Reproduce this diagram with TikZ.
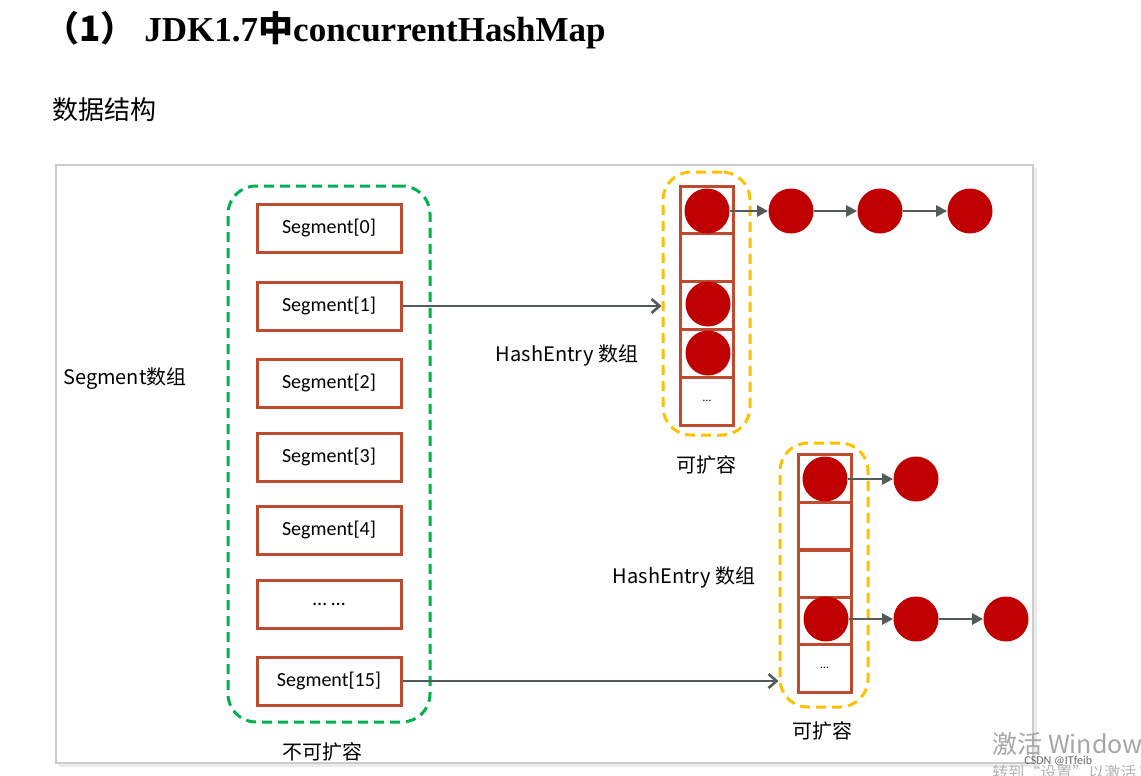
\documentclass[tikz,border=0pt]{standalone}
\usepackage{fontspec}
\usepackage{xcolor}
\setmainfont{Carlito}
\newfontfamily\cjk{Noto Sans CJK SC}
\newfontfamily\titlefont{Liberation Serif}
\usetikzlibrary{arrows.meta}

\definecolor{segred}{RGB}{190,75,48}
\definecolor{dotred}{RGB}{192,0,0}
\definecolor{okgreen}{RGB}{0,176,80}
\definecolor{ambery}{RGB}{255,192,0}
\definecolor{arrgray}{RGB}{82,90,90}

\begin{document}
\begin{tikzpicture}[x=0.5pt,y=-0.5pt,
	segbox/.style={draw=segred,line width=1.5pt,minimum width=72pt,minimum height=24pt,inner sep=0pt,font=\fontsize{10}{11}\selectfont},
	cell/.style={draw=segred,line width=1.5pt,minimum width=26.5pt,minimum height=23.9pt,inner sep=0pt,font=\fontsize{6}{7}\selectfont},
	entry/.style={circle,fill=dotred,minimum size=22.5pt,inner sep=0pt},
	dashbox/.style={line width=1.5pt,dash pattern=on 5pt off 3pt,rounded corners=14pt,inner sep=0pt},
	link/.style={draw=arrgray,line width=1.3pt,-{Triangle[length=5.5pt,width=5.5pt]}},
	ptr/.style={draw=arrgray,line width=1.3pt,-{Straight Barb[length=4pt,width=7pt]}},
	lbl/.style={font=\cjk\fontsize{10}{12}\selectfont,inner sep=0pt}
]
	\useasboundingbox (0,0) rectangle (1141,776);
	
	% headings
	\node[anchor=west,inner sep=0pt,font=\titlefont\bfseries\fontsize{17.5}{19}\selectfont] (title) at (44,30) {{\cjk\bfseries （1）} JDK1.7{\cjk\bfseries 中}concurrentHashMap};
	\node[anchor=west,inner sep=0pt,font=\cjk\fontsize{13}{15}\selectfont] (sub) at (52,110) {数据结构};
	
	% frame
	\fill[black!8] (59,168) rectangle (1037,767);
	\draw[black!20,fill=white,line width=0.8pt] (56,165) rectangle (1033,763);
	
	% segment array
	\node[dashbox,draw=okgreen,minimum width=101pt,minimum height=268pt] (fixed) at (329,454) {};
	\foreach \i/\t/\y in {0/Segment[0]/228,1/Segment[1]/306,2/Segment[2]/383,3/Segment[3]/457,4/Segment[4]/530,5/{\ldots\ \ldots}/604,15/Segment[15]/681}{
		\node[segbox] (s\i) at (329,\y) {\t};
	}
	\node[lbl] (seglbl) at (125,379) {Segment数组};
	\node[lbl] (fixlbl) at (322,752) {不可扩容};
	
	% hashentry arrays
	\node[dashbox,draw=ambery,minimum width=43.5pt,minimum height=131.5pt] (hbox1) at (706.5,303.5) {};
	\node[dashbox,draw=ambery,minimum width=44pt,minimum height=132pt] (hbox2) at (824,575) {};
	\foreach \k/\t in {0/,1/,2/,3/,4/\ldots}{
		\node[cell] (a\k) at (707,{209.9+47.8*\k}) {\t};
		\node[cell] (b\k) at (824.5,{478.7+47.4*\k}) {\t};
	}
	\node[lbl] (hlbl1) at (567,355) {HashEntry 数组};
	\node[lbl] (hlbl2) at (684,577) {HashEntry 数组};
	\node[lbl] (grow1) at (706,465) {可扩容};
	\node[lbl] (grow2) at (822,731) {可扩容};
	
	% entries
	\node[entry] (e0) at (707,211) {};
	\node[entry] (e1) at (791,211) {};
	\node[entry] (e2) at (880,211) {};
	\node[entry] (e3) at (970,211) {};
	\node[entry] (e4) at (708,304) {};
	\node[entry] (e5) at (708,353) {};
	\node[entry] (f0) at (825,479) {};
	\node[entry] (f1) at (916,479) {};
	\node[entry] (f2) at (826,619) {};
	\node[entry] (f3) at (916,619) {};
	\node[entry] (f4) at (1006,619) {};
	
	\draw[link] (e0) -- (e1);
	\draw[link] (e1) -- (e2);
	\draw[link] (e2) -- (e3);
	\draw[link] (f0) -- (f1);
	\draw[link] (f2) -- (f3);
	\draw[link] (f3) -- (f4);
	
	\draw[ptr] (s1.east) -- (s1.east -| hbox1.west);
	\draw[ptr] (s15.east) -- (s15.east -| hbox2.west);
	
	% overlay text
	\node[anchor=west,inner sep=0pt,text=black!35,font=\cjk\fontsize{12.5}{14}\selectfont] (wm) at (992,744) {激活 Windows};
	\node[anchor=west,inner sep=0pt,text=black!30,font=\cjk\fontsize{8}{9}\selectfont] (wm2) at (992,772) {转到“设置”以激活 Windows};
	\node[anchor=west,inner sep=0pt,text=black!60,font=\fontsize{6}{7}\selectfont] (csdn) at (1024,761) {CSDN @ITfeib};
\end{tikzpicture}
\end{document}
